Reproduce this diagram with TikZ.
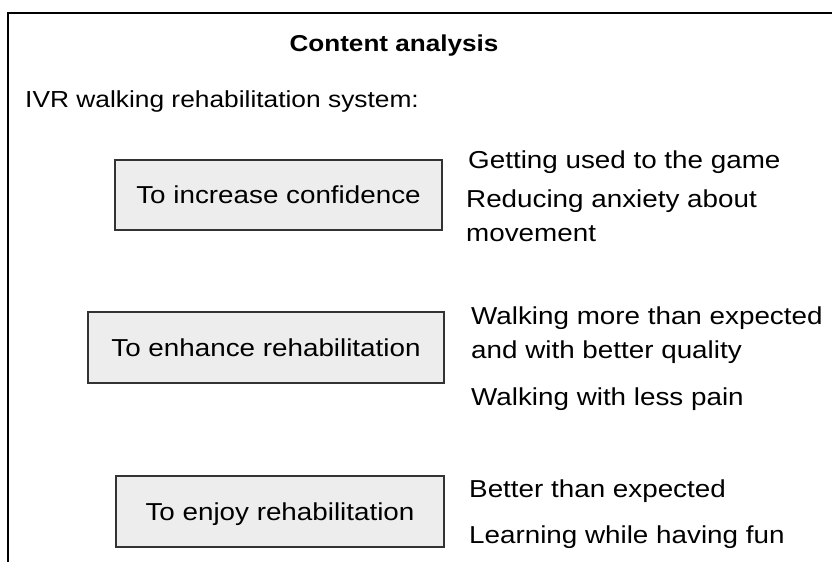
\documentclass[tikz,border=0pt]{standalone}
\usepackage{fontspec}
\setmainfont{Liberation Sans}[FakeStretch=1.135]
\begin{document}
\begin{tikzpicture}[x=1pt,y=-1pt,
  frame/.style={line width=2pt,black},
  themebox/.style={draw=boxline,fill=boxfill,line width=1.5pt,inner sep=0pt,
    text height=17.5pt,text depth=0pt,font=\fontsize{24.5}{34}\selectfont},
  item/.style={anchor=base west,inner sep=0pt,align=left,
    font=\fontsize{24.5}{34}\selectfont}]
\definecolor{boxfill}{HTML}{EDEDED}
\definecolor{boxline}{HTML}{333333}
\useasboundingbox (0,0) rectangle (832,562);

% open frame: top rule and left rule
\coordinate (fbl) at (7.5,562);
\coordinate (ftl) at (7.5,13);
\coordinate (ftr) at (832,13);
\draw[frame] (fbl) -- (ftl) -- (ftr);

% headings
\node[anchor=base,inner sep=0pt,font=\fontsize{23}{28}\selectfont\bfseries]
  (title) at (394,51) {Content analysis};
\node[anchor=base west,inner sep=0pt,font=\fontsize{23.2}{28}\selectfont]
  (system) at (25,107) {IVR walking rehabilitation system:};

% themes
\node[themebox,minimum width=327pt,minimum height=70pt] (conf) at (278.5,195) {To increase confidence};
\node[themebox,minimum width=356pt,minimum height=71pt] (enh) at (266,347.5) {To enhance rehabilitation};
\node[themebox,minimum width=328pt,minimum height=71pt] (enj) at (280,511.5) {To enjoy rehabilitation};

% sub-themes (multi-line items are placed by the baseline of their last line)
\node[item] (c1) at (468,168) {Getting used to the game};
\node[item] (c2) at (466,241) {Reducing anxiety about\\movement};
\node[item] (e1) at (471,358) {Walking more than expected\\and with better quality};
\node[item] (e2) at (471,405) {Walking with less pain};
\node[item] (j1) at (469,497) {Better than expected};
\node[item] (j2) at (469,543) {Learning while having fun};
\end{tikzpicture}
\end{document}
